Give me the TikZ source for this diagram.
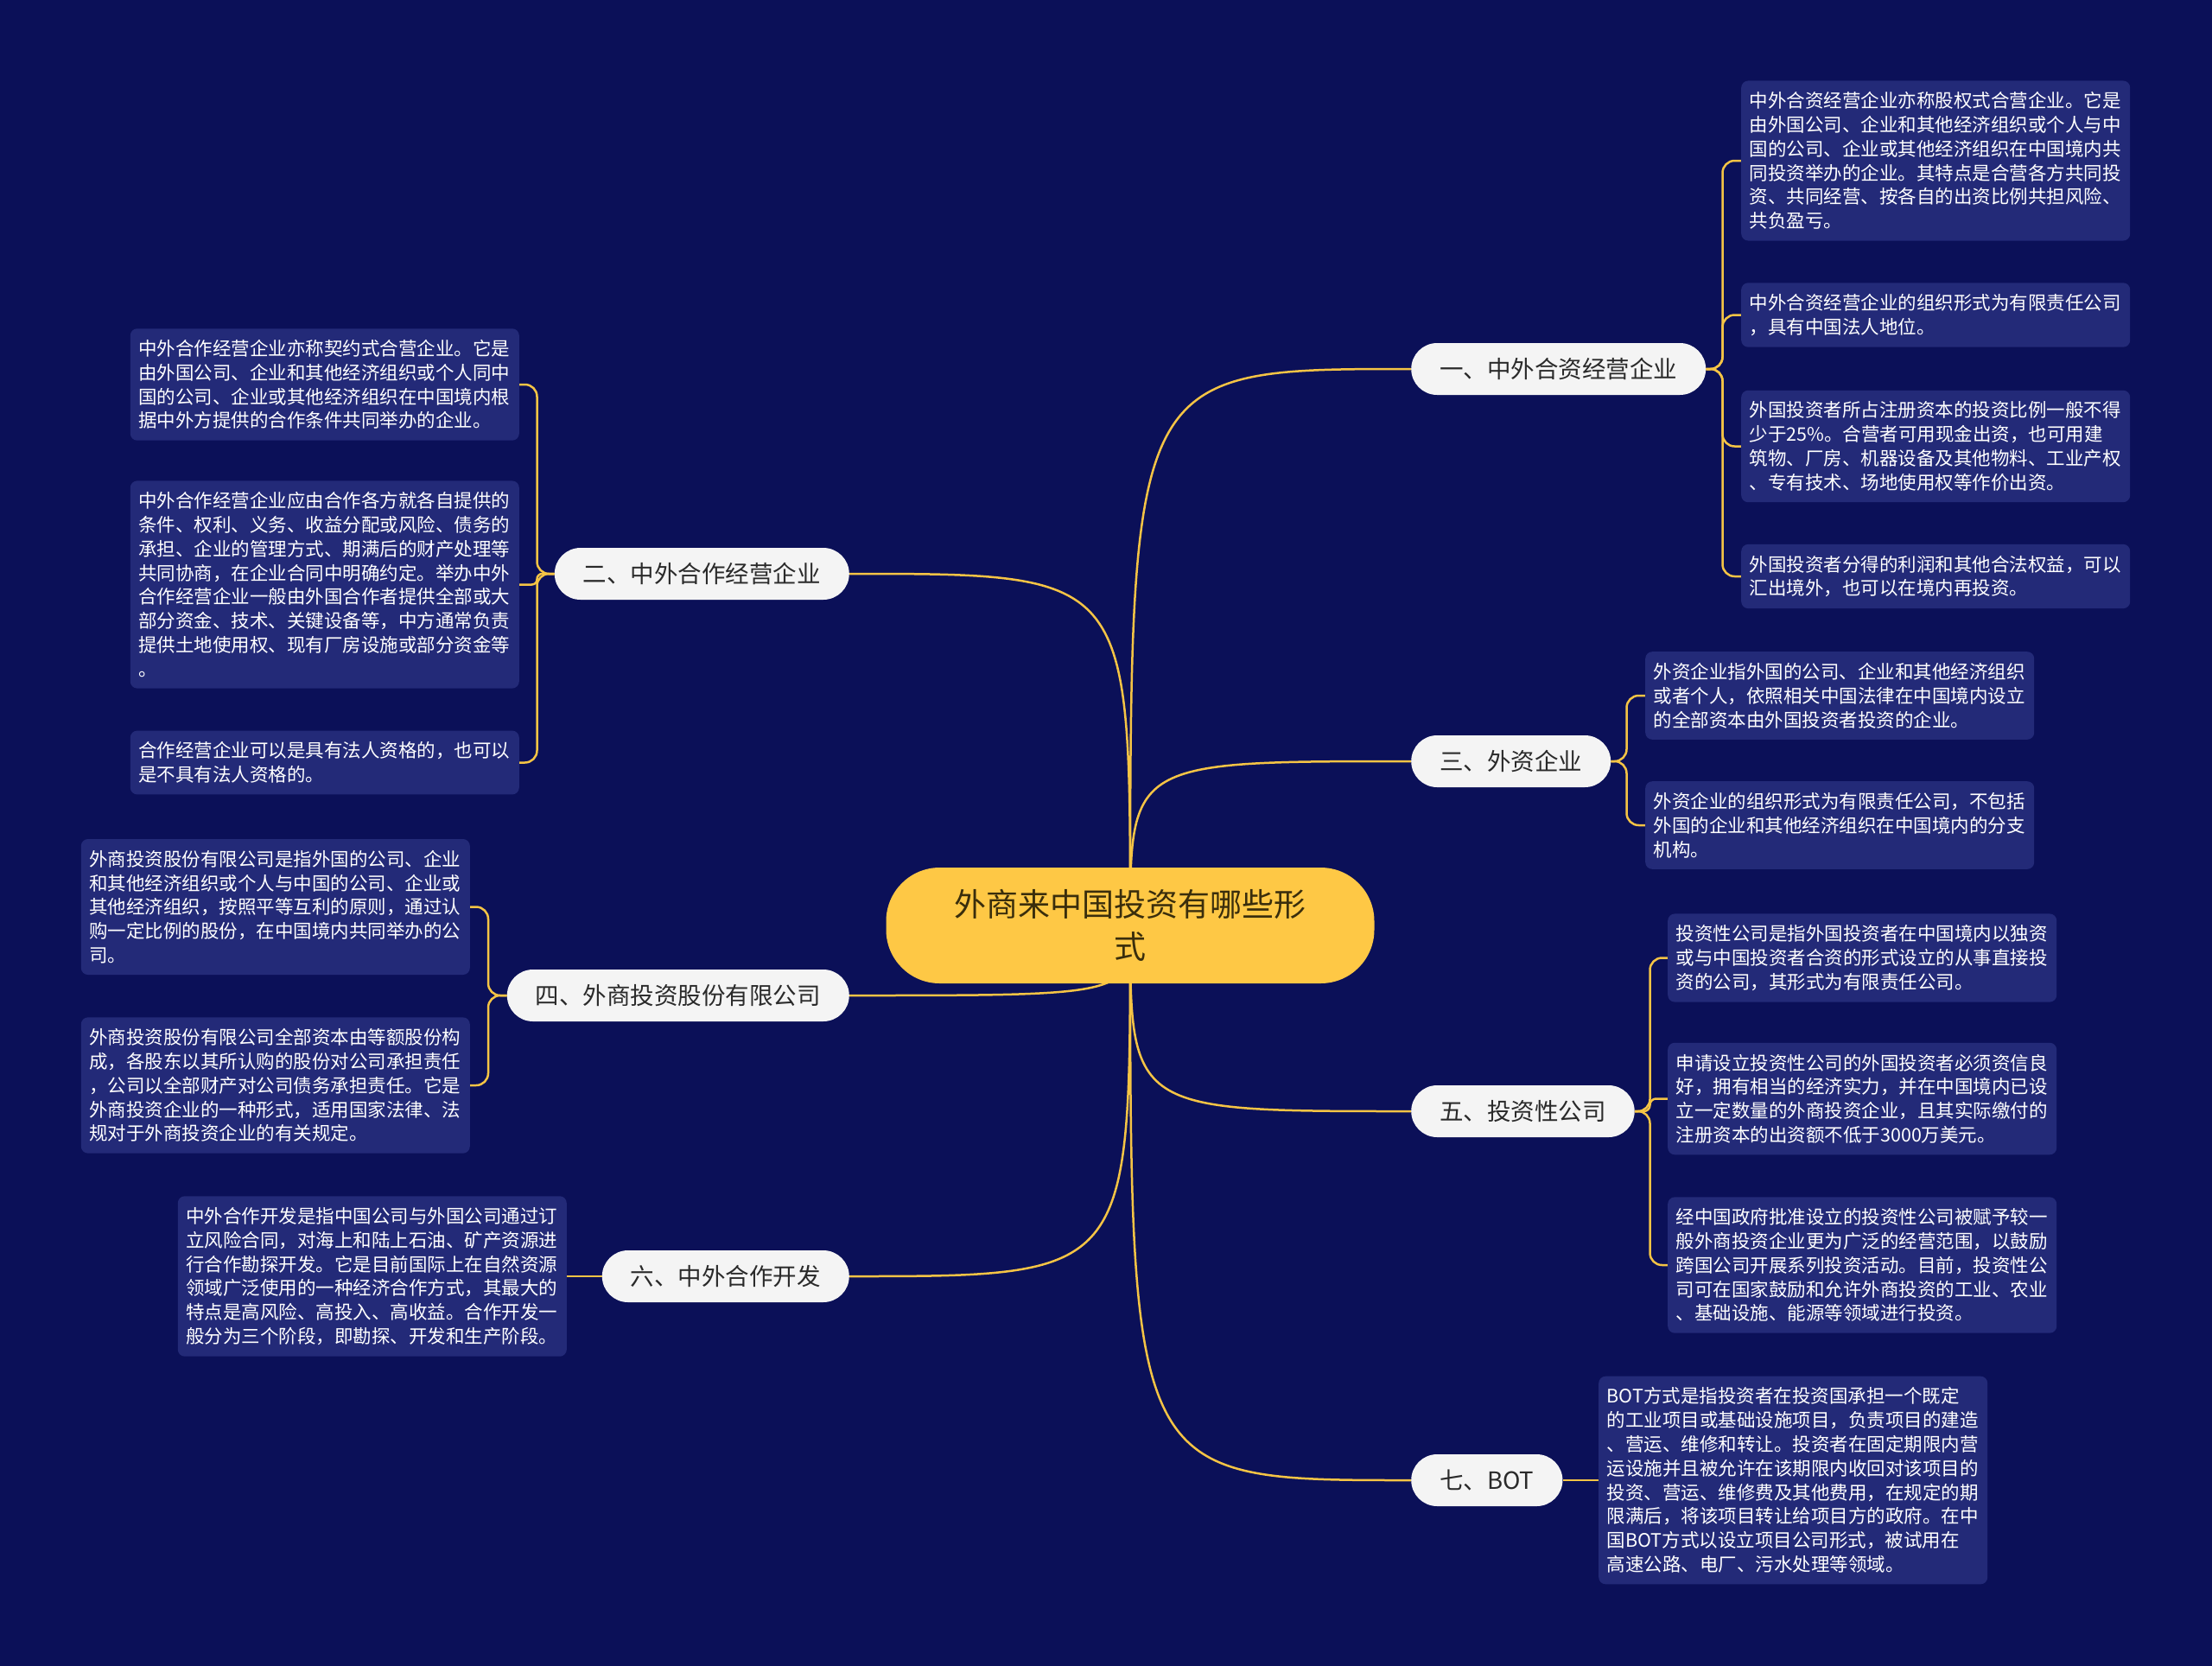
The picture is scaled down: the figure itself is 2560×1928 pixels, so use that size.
\documentclass[tikz,border=0pt]{standalone}
\usepackage{fontspec}
\newfontfamily\cjk{Noto Sans CJK SC}
\usetikzlibrary{backgrounds}
\definecolor{bgc}{HTML}{0B1058}
\definecolor{leafc}{HTML}{232A78}
\definecolor{linec}{HTML}{F5C445}
\definecolor{branchc}{HTML}{F4F4F4}
\definecolor{centerc}{HTML}{FEC845}
\definecolor{centertxt}{HTML}{3A2E0C}
\definecolor{branchtxt}{HTML}{2A2A2A}
\begin{document}
\begin{tikzpicture}[x=1pt,y=-1pt,
  leaf/.style={fill=leafc, rounded corners=8pt, text=white,
    font=\cjk\fontsize{21.5}{27.8}\selectfont, text width=431pt, align=left,
    inner xsep=9.5pt, inner ysep=13pt},
  branch/.style={fill=branchc, rounded corners=30pt, text=branchtxt,
    font=\cjk\fontsize{27.5}{32}\selectfont, minimum height=60pt,
    inner xsep=33pt, inner ysep=0pt},
  root/.style={fill=centerc, rounded corners=62pt, minimum width=565pt,
    minimum height=134pt, align=center, text=centertxt,
    font=\cjk\fontsize{37}{49}\selectfont},
  conn/.style={draw=linec, line width=2.5pt, rounded corners=14pt},
  rootconn/.style={draw=linec, line width=2.5pt}
]
\useasboundingbox (0,0) rectangle (2560,1928);

% root
\node[root] (root) at (1308,1071) {外商来中国投资有哪些形\\式};

% branches
\node[branch, anchor=west] (b1) at (1633,427) {一、中外合资经营企业};
\node[branch, anchor=east] (b2) at (983,664) {二、中外合作经营企业};
\node[branch, anchor=west] (b3) at (1633,881) {三、外资企业};
\node[branch, anchor=east] (b4) at (983,1152) {四、外商投资股份有限公司};
\node[branch, anchor=west] (b5) at (1633,1286) {五、投资性公司};
\node[branch, anchor=east] (b6) at (983,1477) {六、中外合作开发};
\node[branch, anchor=west] (b7) at (1633,1713) {七、BOT};

% leaves of 一
\node[leaf, anchor=west] (l1a) at (2015,186) {中外合资经营企业亦称股权式合营企业。它是\\由外国公司、企业和其他经济组织或个人与中\\国的公司、企业或其他经济组织在中国境内共\\同投资举办的企业。其特点是合营各方共同投\\资、共同经营、按各自的出资比例共担风险、\\共负盈亏。};
\node[leaf, anchor=west] (l1b) at (2015,364.5) {中外合资经营企业的组织形式为有限责任公司\\，具有中国法人地位。};
\node[leaf, anchor=west] (l1c) at (2015,516.5) {外国投资者所占注册资本的投资比例一般不得\\少于25\%。合营者可用现金出资，也可用建\\筑物、厂房、机器设备及其他物料、工业产权\\、专有技术、场地使用权等作价出资。};
\node[leaf, anchor=west] (l1d) at (2015,667) {外国投资者分得的利润和其他合法权益，可以\\汇出境外，也可以在境内再投资。};

% leaves of 二
\node[leaf, anchor=east] (l2a) at (601,445) {中外合作经营企业亦称契约式合营企业。它是\\由外国公司、企业和其他经济组织或个人同中\\国的公司、企业或其他经济组织在中国境内根\\据中外方提供的合作条件共同举办的企业。};
\node[leaf, anchor=east] (l2b) at (601,676.5) {中外合作经营企业应由合作各方就各自提供的\\条件、权利、义务、收益分配或风险、债务的\\承担、企业的管理方式、期满后的财产处理等\\共同协商，在企业合同中明确约定。举办中外\\合作经营企业一般由外国合作者提供全部或大\\部分资金、技术、关键设备等，中方通常负责\\提供土地使用权、现有厂房设施或部分资金等\\。};
\node[leaf, anchor=east] (l2c) at (601,882.5) {合作经营企业可以是具有法人资格的，也可以\\是不具有法人资格的。};

% leaves of 三
\node[leaf, anchor=west] (l3a) at (1904,805) {外资企业指外国的公司、企业和其他经济组织\\或者个人，依照相关中国法律在中国境内设立\\的全部资本由外国投资者投资的企业。};
\node[leaf, anchor=west] (l3b) at (1904,955) {外资企业的组织形式为有限责任公司，不包括\\外国的企业和其他经济组织在中国境内的分支\\机构。};

% leaves of 四
\node[leaf, anchor=east] (l4a) at (544,1049.5) {外商投资股份有限公司是指外国的公司、企业\\和其他经济组织或个人与中国的公司、企业或\\其他经济组织，按照平等互利的原则，通过认\\购一定比例的股份，在中国境内共同举办的公\\司。};
\node[leaf, anchor=east] (l4b) at (544,1256) {外商投资股份有限公司全部资本由等额股份构\\成，各股东以其所认购的股份对公司承担责任\\，公司以全部财产对公司债务承担责任。它是\\外商投资企业的一种形式，适用国家法律、法\\规对于外商投资企业的有关规定。};

% leaves of 五
\node[leaf, anchor=west] (l5a) at (1930,1108.5) {投资性公司是指外国投资者在中国境内以独资\\或与中国投资者合资的形式设立的从事直接投\\资的公司，其形式为有限责任公司。};
\node[leaf, anchor=west] (l5b) at (1930,1271.5) {申请设立投资性公司的外国投资者必须资信良\\好，拥有相当的经济实力，并在中国境内已设\\立一定数量的外商投资企业，且其实际缴付的\\注册资本的出资额不低于3000万美元。};
\node[leaf, anchor=west] (l5c) at (1930,1464) {经中国政府批准设立的投资性公司被赋予较一\\般外商投资企业更为广泛的经营范围，以鼓励\\跨国公司开展系列投资活动。目前，投资性公\\司可在国家鼓励和允许外商投资的工业、农业\\、基础设施、能源等领域进行投资。};

% leaf of 六
\node[leaf, anchor=east] (l6a) at (656,1477) {中外合作开发是指中国公司与外国公司通过订\\立风险合同，对海上和陆上石油、矿产资源进\\行合作勘探开发。它是目前国际上在自然资源\\领域广泛使用的一种经济合作方式，其最大的\\特点是高风险、高投入、高收益。合作开发一\\般分为三个阶段，即勘探、开发和生产阶段。};

% leaf of 七
\node[leaf, anchor=west] (l7a) at (1850,1713) {BOT方式是指投资者在投资国承担一个既定\\的工业项目或基础设施项目，负责项目的建造\\、营运、维修和转让。投资者在固定期限内营\\运设施并且被允许在该期限内收回对该项目的\\投资、营运、维修费及其他费用，在规定的期\\限满后，将该项目转让给项目方的政府。在中\\国BOT方式以设立项目公司形式，被试用在\\高速公路、电厂、污水处理等领域。};

% trunk points
\coordinate (t1) at (1993.5,427);
\coordinate (t2) at (621.5,664);
\coordinate (t3) at (1882.5,881);
\coordinate (t4) at (565,1152);
\coordinate (t5) at (1909.5,1286);

\begin{pgfonlayer}{background}
\fill[bgc] (0,0) rectangle (2560,1928);
% root to branches
\draw[rootconn] (root.center) .. controls (root.center |- b1.west) .. (b1.west);
\draw[rootconn] (root.center) .. controls (root.center |- b2.east) .. (b2.east);
\draw[rootconn] (root.center) .. controls (root.center |- b3.west) .. (b3.west);
\draw[rootconn] (root.center) .. controls (root.center |- b4.east) .. (b4.east);
\draw[rootconn] (root.center) .. controls (root.center |- b5.west) .. (b5.west);
\draw[rootconn] (root.center) .. controls (root.center |- b6.east) .. (b6.east);
\draw[rootconn] (root.center) .. controls (root.center |- b7.west) .. (b7.west);
% branches to leaves
\draw[conn] (b1.east) -- (t1) |- (l1a.west);
\draw[conn] (b1.east) -- (t1) |- (l1b.west);
\draw[conn] (b1.east) -- (t1) |- (l1c.west);
\draw[conn] (b1.east) -- (t1) |- (l1d.west);
\draw[conn] (b2.west) -- (t2) |- (l2a.east);
\draw[conn, rounded corners=6pt] (b2.west) -- (t2) |- (l2b.east);
\draw[conn] (b2.west) -- (t2) |- (l2c.east);
\draw[conn] (b3.east) -- (t3) |- (l3a.west);
\draw[conn] (b3.east) -- (t3) |- (l3b.west);
\draw[conn] (b4.west) -- (t4) |- (l4a.east);
\draw[conn] (b4.west) -- (t4) |- (l4b.east);
\draw[conn] (b5.east) -- (t5) |- (l5a.west);
\draw[conn, rounded corners=7pt] (b5.east) -- (t5) |- (l5b.west);
\draw[conn] (b5.east) -- (t5) |- (l5c.west);
\draw[conn] (b6.west) -- (l6a.east);
\draw[conn] (b7.east) -- (l7a.west);
\end{pgfonlayer}
\end{tikzpicture}
\end{document}
